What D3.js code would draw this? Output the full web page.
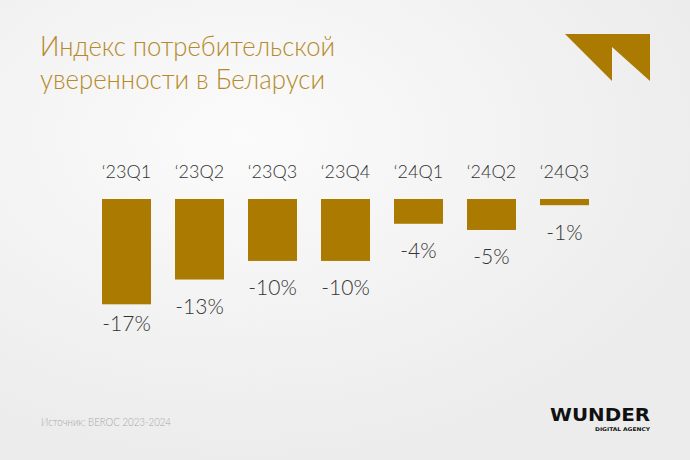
<!DOCTYPE html>
<html><head><meta charset="utf-8">
<script src="https://cdn.jsdelivr.net/npm/d3@7/dist/d3.min.js"></script>
<style>html,body{margin:0;padding:0;background:#f1f1f1;}svg{display:block;}</style>
</head><body>
<script>
const categories = ["‘23Q1","‘23Q2","‘23Q3","‘23Q4","‘24Q1","‘24Q2","‘24Q3"];
const values = [-17,-13,-10,-10,-4,-5,-1];
const valueLabels = ["-17%","-13%","-10%","-10%","-4%","-5%","-1%"];
const titleLines = ["Индекс потребительской","уверенности в Беларуси"];
const sourceText = "Источник:  BEROC 2023-2024";

const W=690,H=460;
const svg=d3.select("body").append("svg").attr("width",W).attr("height",H);
const defs=svg.append("defs");
const g1=defs.append("radialGradient").attr("id","bg1").attr("cx","0.35").attr("cy","0.3").attr("r","0.7");
g1.append("stop").attr("offset","0").attr("stop-color","#fbfbfb");
g1.append("stop").attr("offset","1").attr("stop-color","#ececec");
svg.append("rect").attr("width",W).attr("height",H).attr("fill","url(#bg1)");

const gold="#ab7a00";
const font="Lato, 'Open Sans', sans-serif";

const titleWidths=[295,285];
titleLines.forEach((t,i)=>svg.append("text").attr("x",40).attr("y",56+i*32.5)
  .attr("fill","#b58a2a").attr("font-family",font).attr("font-weight",300).attr("font-size",28)
  .attr("textLength",titleWidths[i]).attr("lengthAdjust","spacingAndGlyphs").text(t));

// logo
svg.append("path").attr("d","M565,34 L650,34 L650,81 L612,47 L612,81 Z").attr("fill",gold);

const x=d3.scaleBand().domain(categories).range([102,589]).paddingInner(24/73).paddingOuter(0);
const y=d3.scaleLinear().domain([0,-17]).range([199,304.3]);

svg.selectAll("rect.bar").data(values).join("rect").attr("class","bar")
 .attr("x",(d,i)=>x(categories[i])).attr("width",x.bandwidth())
 .attr("y",y(0)).attr("height",d=>y(d)-y(0)).attr("fill",gold);

svg.selectAll("text.cat").data(categories).join("text").attr("class","cat")
 .attr("x",d=>x(d)+x.bandwidth()/2).attr("y",178).attr("text-anchor","middle")
 .attr("font-family",font).attr("font-weight",300).attr("font-size",18).attr("fill","#333").text(d=>d);

svg.selectAll("text.val").data(values).join("text").attr("class","val")
 .attr("x",(d,i)=>x(categories[i])+x.bandwidth()/2).attr("y",d=>Math.min(y(d)+34.5,331)).attr("text-anchor","middle")
 .attr("font-family",font).attr("font-weight",300).attr("font-size",21).attr("fill","#333").text((d,i)=>valueLabels[i]);

svg.append("text").attr("x",41).attr("y",426).attr("font-family",font).attr("font-weight",300)
 .attr("font-size",11).attr("fill","#a8a8a8").attr("textLength",130).attr("lengthAdjust","spacingAndGlyphs").text(sourceText);

svg.append("text").attr("x",550).attr("y",421).attr("font-family","'DejaVu Sans Condensed','DejaVu Sans',sans-serif")
 .attr("font-weight","bold").attr("font-size",17).attr("fill","#111").attr("textLength",100).attr("lengthAdjust","spacingAndGlyphs").text("WUNDER");
svg.append("text").attr("x",595).attr("y",430.5).attr("font-family","'DejaVu Sans Condensed','DejaVu Sans',sans-serif")
 .attr("font-weight","bold").attr("font-size",5).attr("fill","#111").attr("textLength",55).attr("lengthAdjust","spacingAndGlyphs").text("DIGITAL AGENCY");
</script>
</body></html>
